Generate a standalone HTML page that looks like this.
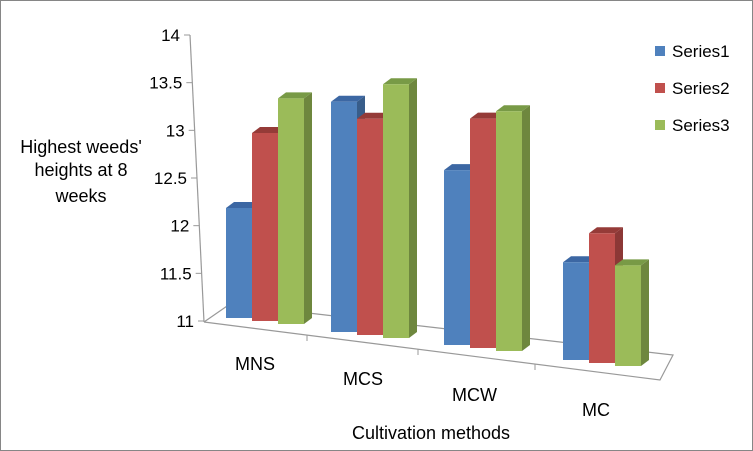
<!DOCTYPE html>
<html><head><meta charset="utf-8"><style>
body{margin:0;background:#fff}
svg{display:block;font-family:"Liberation Sans",sans-serif}
</style></head><body>
<svg id="chart" width="753" height="451" viewBox="0 0 753 451" xmlns="http://www.w3.org/2000/svg">
<rect x="0.5" y="0.5" width="752" height="450" fill="#fff" stroke="#868686"/>
<g id="floor" fill="none" stroke="#999" stroke-width="1.2">
<polyline points="204,322 230,304 673,355 660,380 204,322"/>
<line x1="190" y1="35" x2="204" y2="322"/>
</g>
<g id="yticks" font-size="17" fill="#000" text-anchor="end"></g>
<g id="bars"></g>
<g font-size="18" fill="#000">
<text x="235" y="370">MNS</text>
<text x="343" y="385">MCS</text>
<text x="452" y="401">MCW</text>
<text x="582" y="416">MC</text>
</g>
<g stroke="#999">
<line x1="307" y1="335" x2="307" y2="341"/><line x1="418" y1="349" x2="418" y2="355"/><line x1="535" y1="364" x2="535" y2="370"/>
</g>
<text x="431" y="439" font-size="18" text-anchor="middle">Cultivation methods</text>
<g font-size="18" text-anchor="middle">
<text x="81" y="153">Highest weeds'</text>
<text x="81" y="176">heights at 8</text>
<text x="81" y="202">weeks</text>
</g>
<g id="legend" font-size="17"></g>
</svg>
<script>
const categories=["MNS","MCS","MCW","MC"];
const series1=[12.17,13.45,12.86,12.04];
const series2=[13.0,13.3,13.44,12.38];
const series3=[13.4,13.7,13.55,12.07];
const seriesNames=["Series1","Series2","Series3"];
const yTicks=[11,11.5,12,12.5,13,13.5,14];
const NS="http://www.w3.org/2000/svg";
const colors=[["#4F81BD","#385D8A","#3C67A3"],["#C0504D","#8C3836","#953B38"],["#9BBB59","#6E873E","#789A46"]];
const groupX=[226,331,444,563], groupBase=[318,332,345,360];
const pxPerUnit=94, bw=26, dx=8, dy=6;
function yPos(v,base){return base-(v-11)*pxPerUnit;}
const yt=document.getElementById('yticks');
yTicks.forEach(t=>{
 const y=321-(t-11)/3*286; const ax=204-(321-y)/286*14;
 const tx=document.createElementNS(NS,'text');
 
 
 tx.setAttribute('x',ax-10);tx.setAttribute('y',y+6);tx.textContent=t;yt.appendChild(tx);
 const l=document.createElementNS(NS,'line');
 
 
 l.setAttribute('x1',ax-6);l.setAttribute('x2',ax);l.setAttribute('y1',y);l.setAttribute('y2',y);l.setAttribute('stroke','#999');yt.appendChild(l);
});
const bars=document.getElementById('bars');
const all=[series1,series2,series3];
function poly(pts,fill,name){const p=document.createElementNS(NS,'polygon');
 
 
 p.setAttribute('points',pts.map(a=>a.join(',')).join(' '));p.setAttribute('fill',fill);bars.appendChild(p);}
categories.forEach((c,g)=>{
 all.forEach((s,i)=>{
  const x=groupX[g]+i*bw, base=groupBase[g]+i*3, top=yPos(s[g],base);
  const col=colors[i];
  poly([[x+bw,top],[x+bw+dx,top-dy],[x+bw+dx,base-dy],[x+bw,base]],col[1],'bar-side');
  poly([[x,top],[x+bw,top],[x+bw+dx,top-dy],[x+dx,top-dy]],col[2],'bar-top');
  poly([[x,top],[x+bw,top],[x+bw,base],[x,base]],col[0],'bar-'+c.toLowerCase()+'-series'+(i+1));
 });
});
const lg=document.getElementById('legend');
seriesNames.forEach((n,i)=>{
 const y=46+i*37;
 const r=document.createElementNS(NS,'rect');
 
 
 r.setAttribute('x',655);r.setAttribute('y',y);r.setAttribute('width',10);r.setAttribute('height',10);r.setAttribute('fill',colors[i][0]);lg.appendChild(r);
 const t=document.createElementNS(NS,'text');
 
 
 t.setAttribute('x',672);t.setAttribute('y',y+11);t.textContent=n;lg.appendChild(t);
});
</script>
</body></html>
